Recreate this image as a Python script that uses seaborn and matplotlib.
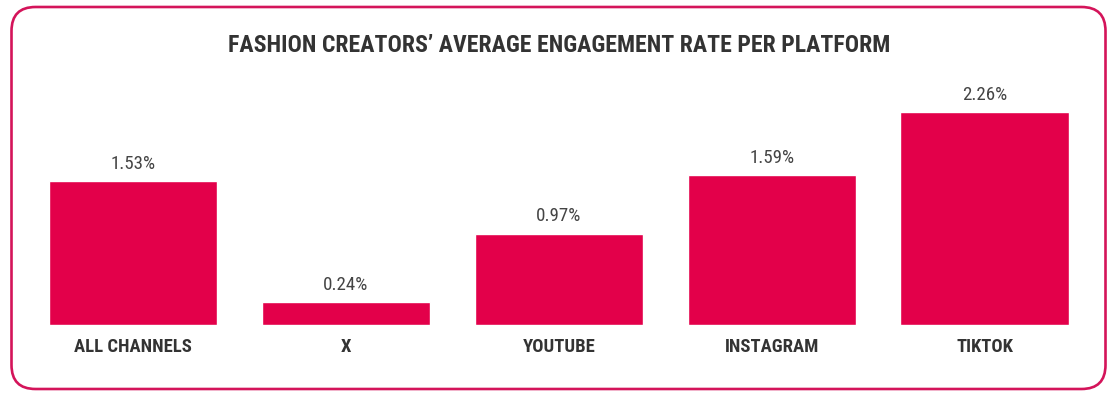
import matplotlib
matplotlib.use("Agg")
import matplotlib.pyplot as plt
import seaborn as sns
from matplotlib import font_manager
from matplotlib.patches import FancyBboxPatch

# data
platforms = ["ALL CHANNELS", "X", "YOUTUBE", "INSTAGRAM", "TIKTOK"]
rates = [1.53, 0.24, 0.97, 1.59, 2.26]
title = "FASHION CREATORS\u2019 AVERAGE ENGAGEMENT RATE PER PLATFORM"

bar_color = "#E3004A"
frame_color = "#D4145A"
text_dark = "#333333"
text_gray = "#444444"


def pick_font(names):
    for name in names:
        try:
            font_manager.findfont(name, fallback_to_default=False)
            return name
        except Exception:
            pass
    return "DejaVu Sans"


sns.set_theme(style="white")
family = pick_font(["Liberation Sans Narrow", "Roboto Condensed", "Roboto", "Liberation Sans"])
plt.rcParams["font.family"] = [family, "DejaVu Sans"]

fig = plt.figure(figsize=(11.18, 3.97), dpi=100)
ax = fig.add_axes([26.6 / 1118, 72 / 397, 1064.4 / 1118, 255 / 397])

sns.barplot(x=platforms, y=rates, color=bar_color, saturation=1, width=0.79, ax=ax)
ax.set_ylim(0, 2.707)
ax.set_xlim(-0.5, len(platforms) - 0.5)
sns.despine(ax=ax, left=True, bottom=True)
ax.set_yticks([])
ax.set_xlabel("")
ax.set_ylabel("")
ax.tick_params(axis="x", length=0, pad=9, labelcolor=text_dark)
for lbl in ax.get_xticklabels():
    lbl.set_fontweight("bold")
    lbl.set_fontsize(13)

vals = ax.bar_label(ax.containers[0], labels=[f"{v:.2f}%" for v in rates],
                    padding=6, color=text_gray, fontsize=13)

ttl = fig.text(0.5, 1 - 45 / 397, title, ha="center", va="center",
               fontweight="bold", color=text_dark, fontsize=16)

# rounded frame around the whole chart
frame = FancyBboxPatch((0.115, 0.08), 10.94, 3.82,
                       boxstyle="round,pad=0,rounding_size=0.24",
                       transform=fig.dpi_scale_trans, fill=False,
                       edgecolor=frame_color, linewidth=1.9)
fig.patches.append(frame)

# scale text sizes so the widths match the reference
renderer = fig.canvas.get_renderer()


def fit(txt, width_px):
    w = txt.get_window_extent(renderer).width
    txt.set_fontsize(txt.get_fontsize() * width_px / w)


fit(ttl, 662)
fit(vals[0], 45)
size = vals[0].get_fontsize()
for v in vals:
    v.set_fontsize(size)
ticks = ax.get_xticklabels()
fit(ticks[0], 117)
tsize = ticks[0].get_fontsize()
for t in ticks:
    t.set_fontsize(tsize)

fig.savefig("out.png", dpi=100, facecolor="white")
